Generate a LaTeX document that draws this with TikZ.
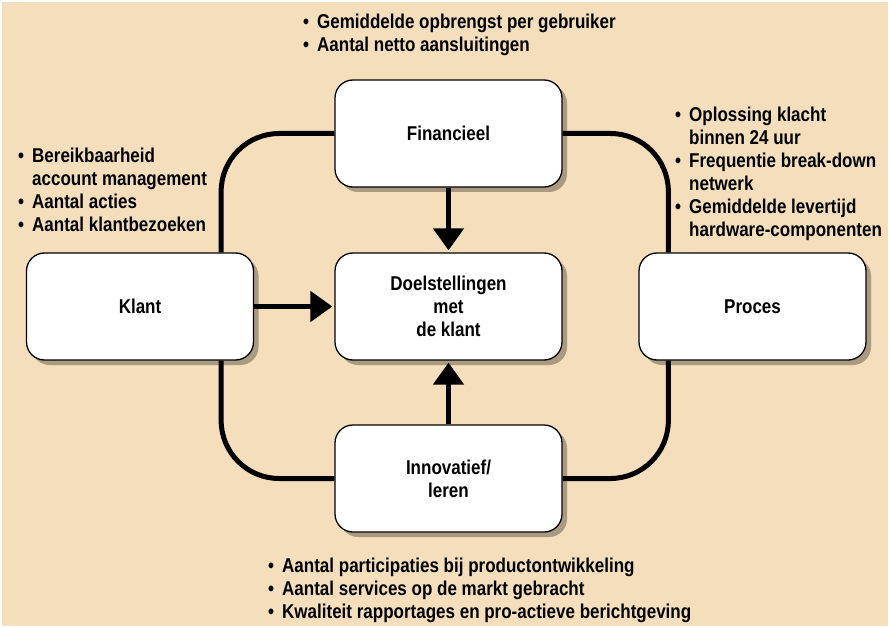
\documentclass[tikz,border=0pt]{standalone}
\usepackage{fontspec}
\setmainfont{Liberation Sans}[FakeStretch=0.85]
\usetikzlibrary{arrows.meta,shadows}
\definecolor{bgbeige}{RGB}{244,222,187}
\newcommand\bl{\makebox[14pt][l]{•}}
\newcommand\ind{\hspace*{14pt}}
\begin{document}
\begin{tikzpicture}[x=1pt,y=-1pt,
  font=\fontsize{20}{23}\selectfont\bfseries,
  box/.style={draw=black, line width=1.3pt, fill=white, rounded corners=18pt,
    minimum width=227pt, minimum height=107pt, align=center, inner sep=0pt,
    drop shadow={shadow xshift=5pt, shadow yshift=-5pt, fill=black, opacity=0.3}},
  loopline/.style={line width=5pt, rounded corners=58pt},
  flow/.style={line width=5pt, -{Triangle[width=30pt,length=22pt]}, shorten >=2pt},
  bullets/.style={anchor=north west, align=left, inner sep=0pt}]
\useasboundingbox (0,0) rectangle (890,628);
\fill[bgbeige] (2,2) rectangle (888,626);

\node[box] (fin) at (448.5,133.5) {Financieel};
\node[box] (doel) at (448.5,306.5) {Doelstellingen\\met\\de klant};
\node[box] (klant) at (140,306.5) {Klant};
\node[box] (proc) at (752.5,306.5) {Proces};
\node[box] (innov) at (448.5,478.5) {Innovatief/\\leren};

\draw[loopline] (fin.west) -| ([xshift=-33pt]klant.north east);
\draw[loopline] (fin.east) -| ([xshift=30pt]proc.north west);
\draw[loopline] ([xshift=-33pt]klant.south east) |- (innov.west);
\draw[loopline] ([xshift=30pt]proc.south west) |- (innov.east);

\draw[flow] (fin.south) -- (doel.north);
\draw[flow] (klant.east) -- (doel.west);
\draw[flow] (innov.north) -- (doel.south);

\node[bullets] (tfin) at (303,14) {\bl Gemiddelde opbrengst per gebruiker\\\bl Aantal netto aansluitingen};
\node[bullets] (tklant) at (18,148) {\bl Bereikbaarheid\\\ind account management\\\bl Aantal acties\\\bl Aantal klantbezoeken};
\node[bullets] (tproc) at (675,107) {\bl Oplossing klacht\\\ind binnen 24 uur\\\bl Frequentie break-down\\\ind netwerk\\\bl Gemiddelde levertijd\\\ind hardware-componenten};
\node[bullets] (tinnov) at (268,558) {\bl Aantal participaties bij productontwikkeling\\\bl Aantal services op de markt gebracht\\\bl Kwaliteit rapportages en pro-actieve berichtgeving};
\end{tikzpicture}
\end{document}
